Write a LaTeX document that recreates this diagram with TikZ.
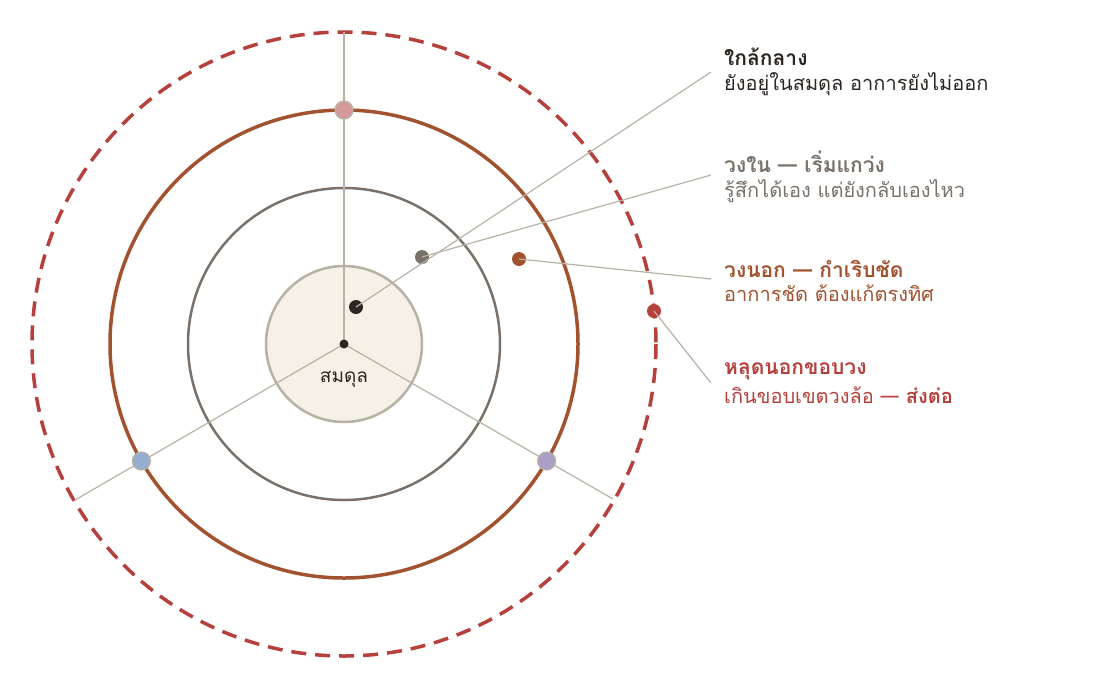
\documentclass[tikz,border=0pt]{standalone}
\usepackage{fontspec}
\setmainfont[Script=Thai]{Loma}
\definecolor{spoke}{HTML}{B8B2A6}
\definecolor{brownring}{HTML}{A0532E}
\definecolor{grayring}{HTML}{7A716A}
\definecolor{corefill}{HTML}{F5F1E6}
\definecolor{redring}{HTML}{B5403C}
\definecolor{darktxt}{HTML}{2B2622}
\definecolor{pinkdot}{HTML}{D49A9A}
\definecolor{bluedot}{HTML}{94AFCF}
\definecolor{purpledot}{HTML}{AAA0C6}
\tikzset{
  spokeline/.style={draw=spoke,line width=1.2pt},
  bigdot/.style={circle,inner sep=0pt,minimum size=18pt,draw=spoke,line width=1.2pt},
  smalldot/.style={circle,inner sep=0pt,minimum size=14pt},
  ttl/.style={anchor=base west,font=\fontsize{21}{24}\selectfont\bfseries,inner sep=0pt},
  bdy/.style={anchor=base west,font=\fontsize{20}{24}\selectfont,inner sep=0pt},
}
\begin{document}
\begin{tikzpicture}[x=1pt,y=-1pt]
\useasboundingbox (0,0) rectangle (1096,689);
\coordinate (C) at (344,344);
% rings
\draw[redring,line width=3.5pt,dash pattern=on 15pt off 9pt] (C) circle[radius=312];
\draw[brownring,line width=3.5pt] (C) circle[radius=234];
\draw[grayring,line width=2.5pt] (C) circle[radius=156];
\draw[spoke,fill=corefill,line width=2.5pt] (C) circle[radius=78];
% spokes
\coordinate (sT) at (344,32);
\coordinate (sL) at (75,500);
\coordinate (sR) at (613,499);
\draw[spokeline] (C) -- (sT);
\draw[spokeline] (C) -- (sL);
\draw[spokeline] (C) -- (sR);
\node[circle,fill=darktxt,inner sep=0pt,minimum size=9pt] (center) at (C) {};
\node[bigdot,fill=pinkdot] (pd) at (344,110) {};
\node[bigdot,fill=bluedot] (bd) at (141.4,461) {};
\node[bigdot,fill=purpledot] (ud) at (546.6,461) {};
\node[font=\fontsize{19}{22}\selectfont,text=darktxt,anchor=base] (eq) at (344,382) {สมดุล};
% marker dots
\node[smalldot,fill=darktxt] (d1) at (356,307) {};
\node[smalldot,fill=grayring] (d2) at (422,257) {};
\node[smalldot,fill=brownring] (d3) at (519,259) {};
\node[smalldot,fill=redring] (d4) at (654,311) {};
\coordinate (e1) at (711,72);
\coordinate (e2) at (711,175);
\coordinate (e3) at (711,279);
\coordinate (e4) at (711,383);
\draw[spokeline] (d1.center) -- (e1);
\draw[spokeline] (d2.center) -- (e2);
\draw[spokeline] (d3.center) -- (e3);
\draw[spokeline] (d4.center) -- (e4);
% labels
\node[ttl,text=darktxt] (t1) at (724,65) {ใกล้กลาง};
\node[bdy,text=darktxt] (b1) at (724,90) {ยังอยู่ในสมดุล อาการยังไม่ออก};
\node[ttl,text=grayring] (t2) at (724,172) {วงใน — เริ่มแกว่ง};
\node[bdy,text=grayring] (b2) at (724,197) {รู้สึกได้เอง แต่ยังกลับเองไหว};
\node[ttl,text=brownring] (t3) at (724,277) {วงนอก — กำเริบชัด};
\node[bdy,text=brownring] (b3) at (724,301) {อาการชัด ต้องแก้ตรงทิศ};
\node[ttl,text=redring] (t4) at (724,374) {หลุดนอกขอบวง};
\node[bdy,text=redring] (b4) at (724,403) {เกินขอบเขตวงล้อ — \textbf{ส่งต่อ}};
\end{tikzpicture}
\end{document}
